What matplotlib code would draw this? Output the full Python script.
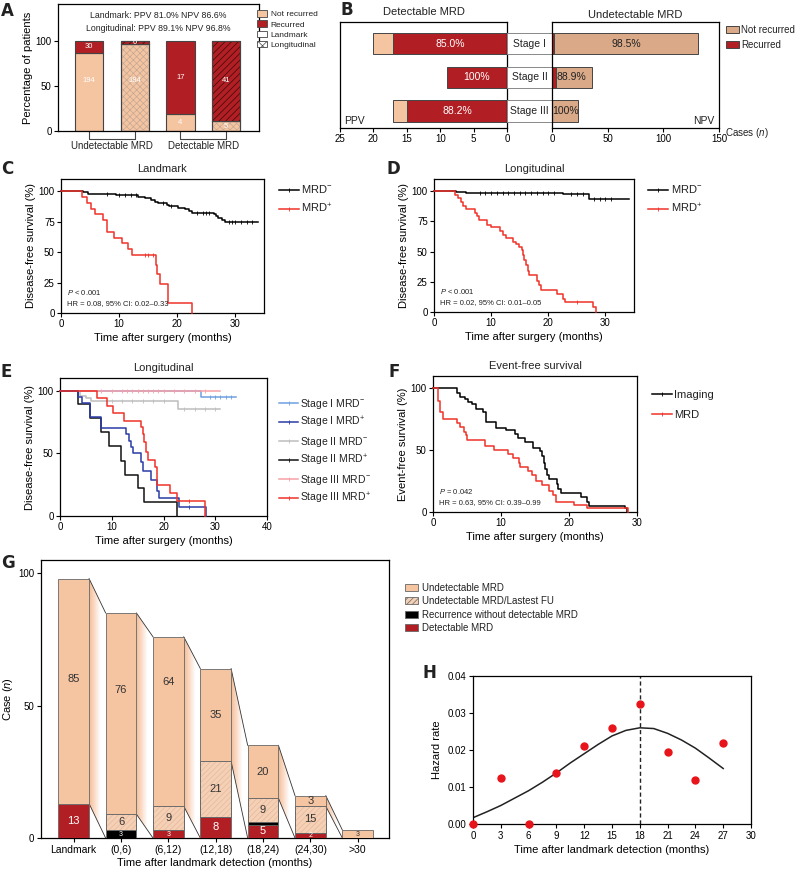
import numpy as np
import matplotlib
matplotlib.use("Agg")
import matplotlib.pyplot as plt
from matplotlib.patches import Patch, Polygon
from matplotlib.lines import Line2D
from matplotlib.colors import LinearSegmentedColormap

plt.rcParams["font.family"] = ["Liberation Sans", "DejaVu Sans"]
plt.rcParams["mathtext.fontset"] = "custom"
plt.rcParams["mathtext.rm"] = "Liberation Sans"
plt.rcParams["mathtext.it"] = "Liberation Sans:italic"
plt.rcParams["hatch.linewidth"] = 0.5
plt.rcParams["axes.linewidth"] = 0.9
plt.rcParams["xtick.labelsize"] = 7
plt.rcParams["ytick.labelsize"] = 7
plt.rcParams["xtick.major.size"] = 3
plt.rcParams["ytick.major.size"] = 3
plt.rcParams["text.color"] = "#222222"

# ---------------- data ----------------
# A
A_groups = ["Undetectable MRD", "Detectable MRD"]
A_not_recurred = [194, 184, 4, 5]
A_recurred = [30, 6, 17, 41]
A_longitudinal = [False, True, False, True]

# B
B_stages = ["Stage I", "Stage II", "Stage III"]
B_det_recurred = [17, 9, 15]
B_det_not = [3, 0, 2]
B_und_recurred = [2, 4, 0]
B_und_not = [129, 32, 23]

# C landmark KM
C_neg_t = [0, 3.8, 4.7, 6.5, 9.5, 13.3, 14.5, 15.6, 16.2, 16.8, 18.2, 18.6, 20.2, 21.3, 22.0, 22.6, 26.3, 26.8, 27.1, 27.7, 28.3, 34.0]
C_neg_s = [100, 99, 98, 97.5, 96.7, 95.5, 94, 92.5, 91, 90, 89, 87.5, 86.5, 85, 84, 82.5, 81, 79.5, 78, 76.5, 75, 75]
C_neg_cens = [8, 10, 11, 12, 13, 17.5, 19, 23.5, 24.5, 25, 25.5, 29, 29.5, 30, 31, 32, 33]
C_pos_t = [0, 3.6, 4.4, 5.2, 5.8, 7.3, 7.9, 9.2, 10.6, 11.6, 12.2, 16.3, 16.6, 17.0, 18.5, 22.5]
C_pos_s = [100, 95.2, 90.5, 85.7, 81.0, 76.2, 66.7, 61.9, 57.1, 52.4, 47.6, 39.7, 31.7, 23.8, 7.9, 0]
C_pos_cens = [14.5, 15.0, 15.8]

# D longitudinal KM
D_neg_t = [0, 3.9, 5.6, 22.5, 27.2, 34.1]
D_neg_s = [100, 99, 98.4, 97.3, 93.8, 93.8]
D_neg_cens = [8, 9, 10, 11, 12, 13, 14, 15, 16, 17, 18, 19, 20, 21, 24, 25, 26, 28, 29, 30, 31]
D_pos_t = [0, 3.6, 4.2, 4.8, 5.1, 5.6, 7.1, 7.5, 7.8, 9.2, 10.0, 11.5, 12.0, 12.6, 13.8, 14.4, 14.9, 15.4, 15.6, 15.8,
           16.1, 16.4, 16.7, 18.1, 18.4, 18.7, 21.5, 22.5, 22.9, 27.8, 28.4]
D_pos_s = [100, 97, 94, 91, 88, 85, 82, 79, 76, 72, 70, 67, 64, 61, 58, 56, 54, 51, 47, 43,
           39, 34, 31, 26, 22, 18, 15, 11, 8, 4, 0]
D_pos_cens = [25.0]

# E stage-wise longitudinal KM
E_labels = ["Stage I MRD$^{-}$", "Stage I MRD$^{+}$", "Stage II MRD$^{-}$",
            "Stage II MRD$^{+}$", "Stage III MRD$^{-}$", "Stage III MRD$^{+}$"]
E_colors = ["#6f9fe0", "#2b3ca6", "#bdbdbd", "#111111", "#f6a0a6", "#ef3228"]
E_t = [
    [0, 27.2, 34.0],
    [0, 3.5, 4.2, 5.8, 7.9, 12.8, 13.3, 13.8, 14.2, 15.6, 16.0, 17.5, 18.7, 19.2, 22.9, 28.3],
    [0, 3.9, 5.0, 6.0, 22.8, 31.0],
    [0, 3.5, 5.8, 7.9, 9.4, 11.7, 12.6, 15.1, 16.3, 22.7],
    [0, 31.0],
    [0, 7.1, 9.0, 10.3, 12.4, 15.6, 16.0, 16.3, 16.6, 17.0, 18.3, 18.8, 21.3, 22.6, 28.0],
]
E_s = [
    [100, 95, 95],
    [100, 95, 90, 79, 70, 65, 60, 55, 50, 43, 36, 29, 20, 14, 7, 0],
    [100, 96, 94, 92, 85, 85],
    [100, 89, 78, 67, 56, 44, 33, 22, 11, 0],
    [100, 100],
    [100, 94, 88, 82, 76, 71, 65, 59, 51, 45, 39, 25, 18, 12, 0],
]
E_cens = [
    [29, 30, 31, 32, 33],
    [25],
    [10, 12, 14, 16, 18, 20, 24, 26, 28, 30],
    [],
    [8, 10, 12, 13, 14, 15, 16, 17, 18, 19, 20, 22, 24, 26, 28],
    [25],
]

# F event-free survival
F_img_t = [0, 3.6, 4.0, 4.7, 5.2, 5.7, 6.3, 7.3, 7.8, 9.3, 10.8, 12.0, 12.5, 13.5, 14.7, 15.7, 16.1, 16.3, 16.5, 16.8,
           17.0, 18.2, 18.4, 18.8, 21.8, 22.6, 22.9, 28.2, 28.5]
F_img_s = [100, 96, 93, 91, 89, 87, 83, 81, 73, 68, 66, 63, 60, 57, 52, 49, 45, 40, 35, 30,
           27, 23, 19, 15, 12, 8, 5, 3, 0]
F_mrd_t = [0, 0.8, 1.0, 1.5, 3.5, 4.0, 4.5, 4.8, 5.0, 7.7, 9.0, 11.1, 11.7, 12.6, 12.8, 14.0, 14.5, 15.2, 16.0, 17.0,
           17.6, 18.1, 20.8, 22.6, 28.7]
F_mrd_s = [100, 90, 81, 75, 72, 69, 65, 62, 58, 53, 50, 47, 44, 40, 36, 33, 30, 25, 22, 17,
           14, 8, 6, 3, 0]

# G
G_categories = ["Landmark", "(0,6)", "(6,12)", "(12,18)", "(18,24)", "(24,30)", ">30"]
G_detectable = [13, 0, 3, 8, 5, 2, 0]
G_recur_no_mrd = [0, 3, 0, 0, 1, 0, 0]
G_last_fu = [0, 6, 9, 21, 9, 10, 0]
G_undetectable = [85, 76, 64, 35, 20, 4, 3]
G_lab_detectable = ["13", "", "3", "8", "5", "2", ""]
G_lab_recur = ["", "3", "", "", "", "", ""]
G_lab_fu = ["", "6", "9", "21", "9", "15", ""]
G_lab_und = ["85", "76", "64", "35", "20", "3", "3"]

# H
H_months = [0, 3, 6, 9, 12, 15, 18, 21, 24, 27]
H_rate = [0.0, 0.0125, 0.0, 0.0138, 0.021, 0.026, 0.0325, 0.0194, 0.012, 0.0218]
H_fit_t = [0, 1.5, 3, 4.5, 6, 7.5, 9, 10.5, 12, 13.5, 15, 16.5, 18, 19.5, 21, 22.5, 24, 25.5, 27]
H_fit = [0.0017, 0.0033, 0.005, 0.007, 0.009, 0.0113, 0.0138, 0.0165, 0.019, 0.0215, 0.0238, 0.0253, 0.026,
         0.0258, 0.0245, 0.0227, 0.0205, 0.0178, 0.015]

PEACH = "#f5c4a1"
DARKRED = "#b11f24"
TAN = "#d9a988"
RED = "#ef3228"
EDGE = "#444444"

W, H = 795, 869
fig = plt.figure(figsize=(W / 100, H / 100), dpi=100)


def px_axes(l, t, r, b):
    return fig.add_axes([l / W, 1 - b / H, (r - l) / W, (b - t) / H])


def letter(x, y, s):
    fig.text(x / W, 1 - y / H, s, fontsize=12, fontweight="bold", va="center", ha="left",
             family=["DejaVu Sans"])


def surv_at(t, s, x):
    idx = np.searchsorted(np.asarray(t), np.asarray(x), side="right") - 1
    return np.asarray(s)[idx]


def km(ax, t, s, color, cens=None, lw=1.1):
    ax.step(t, s, where="post", color=color, lw=lw, clip_on=False, zorder=3)
    if cens:
        ax.plot(cens, surv_at(t, s, cens), "|", color=color, ms=2.5, mew=0.6, zorder=3)


def km_axes(ax, xmax, xstep, title):
    ax.set_xlim(0, xmax)
    ax.set_ylim(0, 110)
    ax.set_yticks([0, 25, 50, 75, 100])
    ax.set_xticks(np.arange(0, xmax + 0.1, xstep))
    ax.set_title(title, fontsize=8, pad=5)
    ax.set_xlabel("Time after surgery (months)", fontsize=8, labelpad=3)
    ax.tick_params(length=3, width=0.8, pad=1.5)


def km_handle(color):
    return Line2D([], [], color=color, lw=1.1, marker="|", ms=2.5, mew=0.6)


# ---------------- A ----------------
axA = px_axes(58, 4, 259, 131)
xa = [1, 2, 3, 4]
for i, x in enumerate(xa):
    nr, rc = A_not_recurred[i], A_recurred[i]
    tot = nr + rc
    p_nr, p_rc = nr / tot * 100, rc / tot * 100
    axA.bar(x, p_nr, 0.62, color=PEACH, ec=EDGE, lw=0.8, zorder=2)
    axA.bar(x, p_rc, 0.62, bottom=p_nr, color=DARKRED, ec=EDGE, lw=0.8, zorder=2)
    if A_longitudinal[i]:
        axA.bar(x, p_nr, 0.62, fill=False, hatch="xxxxx", ec="#c4a896", lw=0, zorder=3)
        axA.bar(x, p_rc, 0.62, bottom=p_nr, fill=False, hatch="/////", ec="#3a0808", lw=0, zorder=3)
        axA.bar(x, 100, 0.62, fill=False, ec=EDGE, lw=0.8, zorder=4)
        axA.plot([x - 0.31, x + 0.31], [p_nr, p_nr], color=EDGE, lw=0.8, zorder=4)
    for val, lo, h in [(nr, 0, p_nr), (rc, p_nr, p_rc)]:
        y = lo + h / 2
        if h > 60:
            y = max(y, 56)
        axA.text(x, y, str(val), ha="center", va="center", color="white", fontsize=5.5, zorder=5)
axA.set_xlim(0.32, 4.72)
axA.set_ylim(0, 141)
axA.set_yticks([0, 50, 100])
axA.set_xticks([])
axA.set_ylabel("Percentage of patients", fontsize=8, labelpad=2)
axA.tick_params(length=3, width=0.8, pad=1.5)
ppv_l = A_recurred[2] / (A_recurred[2] + A_not_recurred[2]) * 100
npv_l = A_not_recurred[0] / (A_recurred[0] + A_not_recurred[0]) * 100
ppv_g = A_recurred[3] / (A_recurred[3] + A_not_recurred[3]) * 100
npv_g = A_not_recurred[1] / (A_recurred[1] + A_not_recurred[1]) * 100
axA.text(2.52, 128, f"Landmark: PPV {ppv_l:.1f}% NPV {npv_l:.1f}%", ha="center", va="center", fontsize=6.3)
axA.text(2.52, 114, f"Longitudinal: PPV {ppv_g:.1f}% NPV {npv_g:.1f}%", ha="center", va="center", fontsize=6.3)
for k, (a, b) in enumerate([(1, 2), (3, 4)]):
    axA.plot([a, a, b, b], [-1, -9, -9, -1], color=EDGE, lw=0.8, clip_on=False)
    axA.text((a + b) / 2, -17, A_groups[k], ha="center", va="center", fontsize=7)
hA = [Patch(fc=PEACH, ec=EDGE, lw=0.6), Patch(fc=DARKRED, ec=EDGE, lw=0.6),
      Patch(fc="white", ec=EDGE, lw=0.6), Patch(fc="white", ec=EDGE, lw=0.6, hatch="xxxx")]
fig.legend(hA, ["Not recurred", "Recurred", "Landmark", "Longitudinal"], loc="upper left",
           bbox_to_anchor=(254 / W, 1 - 7 / H), frameon=False, fontsize=6, handlelength=1.2,
           handleheight=0.8, labelspacing=0.25, handletextpad=0.4, borderaxespad=0)
letter(1, 11, "A")

# ---------------- B ----------------
yb = [3, 2, 1]
bh = 0.63
axBL = px_axes(340, 22, 507, 128)
axBM = px_axes(507, 22, 552, 128)
axBR = px_axes(552, 22, 719, 128)
for i, y in enumerate(yb):
    r, n = B_det_recurred[i], B_det_not[i]
    axBL.barh(y, r, bh, color=DARKRED, ec=EDGE, lw=0.7)
    if n:
        axBL.barh(y, n, bh, left=r, color=PEACH, ec=EDGE, lw=0.7)
    axBL.text(r / 2, y, f"{r / (r + n) * 100:.1f}%" if n else "100%", color="white",
              ha="center", va="center", fontsize=7.5)
    ur, un = B_und_recurred[i], B_und_not[i]
    if ur:
        axBR.barh(y, ur, bh, color=DARKRED, ec=EDGE, lw=0.7)
    axBR.barh(y, un, bh, left=ur, color=TAN, ec=EDGE, lw=0.7)
    npv = un / (un + ur) * 100
    txt = "100%" if ur == 0 else f"{npv:.1f}%"
    if un > 60:
        axBR.text(ur + un / 2, y, txt, ha="center", va="center", fontsize=7.5)
    else:
        axBR.text(ur + 0.3, y, txt, ha="left", va="center", fontsize=7.5)
    axBM.barh(y, 1, bh, color="white", ec="#888888", lw=0.7)
    axBM.text(0.5, y, B_stages[i], ha="center", va="center", fontsize=7.5)
for ax in (axBL, axBM, axBR):
    ax.set_ylim(0.5, 3.64)
    ax.set_yticks([])
    ax.tick_params(length=3, width=0.8, pad=1.5)
axBL.set_xlim(25, 0)
axBL.set_xticks([25, 20, 15, 10, 5, 0])
axBR.set_xlim(0, 150)
axBR.set_xticks([0, 50, 100, 150])
axBM.set_xlim(0, 1)
axBM.axis("off")
axBL.text(0.025, 0.07, "PPV", transform=axBL.transAxes, fontsize=7.5, va="center")
axBR.text(0.975, 0.07, "NPV", transform=axBR.transAxes, fontsize=7.5, va="center", ha="right")
axBL.set_title("Detectable MRD", fontsize=8, pad=5)
axBR.set_title("Undetectable MRD", fontsize=8, pad=3)
fig.text(747 / W, 1 - 133 / H, "Cases ($n$)", fontsize=7, ha="center", va="center")
hB = [Patch(fc=TAN, ec=EDGE, lw=0.7), Patch(fc=DARKRED, ec=EDGE, lw=0.7)]
fig.legend(hB, ["Not recurred", "Recurred"], loc="upper left", bbox_to_anchor=(722 / W, 1 - 21 / H),
           frameon=False, fontsize=7, handlelength=1.3, handleheight=0.8, labelspacing=0.5,
           handletextpad=0.3, borderaxespad=0)
letter(340, 10, "B")

# ---------------- C ----------------
axC = px_axes(61, 179, 264, 313)
km(axC, C_neg_t, C_neg_s, "black", C_neg_cens)
km(axC, C_pos_t, C_pos_s, RED, C_pos_cens)
km_axes(axC, 35, 10, "Landmark")
axC.set_ylabel("Disease-free survival (%)", fontsize=8, labelpad=2)
axC.text(0.03, 0.135, "$P$ < 0.001", transform=axC.transAxes, fontsize=5.5)
axC.text(0.03, 0.06, "HR = 0.08, 95% CI: 0.02\u20130.33", transform=axC.transAxes, fontsize=5.5)
axC.legend([km_handle("black"), km_handle(RED)], ["MRD$^{-}$", "MRD$^{+}$"], loc="upper left",
           bbox_to_anchor=(1.05, 1.0), frameon=False, fontsize=8, handlelength=1.8,
           labelspacing=0.6, handletextpad=0.2, borderaxespad=0)
letter(1, 169, "C")

# ---------------- D ----------------
axD = px_axes(434, 179, 634, 312)
km(axD, D_neg_t, D_neg_s, "black", D_neg_cens)
km(axD, D_pos_t, D_pos_s, RED, D_pos_cens)
km_axes(axD, 35, 10, "Longitudinal")
axD.set_ylabel("Disease-free survival (%)", fontsize=8, labelpad=2)
axD.text(0.03, 0.135, "$P$ < 0.001", transform=axD.transAxes, fontsize=5.5)
axD.text(0.03, 0.06, "HR = 0.02, 95% CI: 0.01\u20130.05", transform=axD.transAxes, fontsize=5.5)
axD.legend([km_handle("black"), km_handle(RED)], ["MRD$^{-}$", "MRD$^{+}$"], loc="upper left",
           bbox_to_anchor=(1.05, 1.0), frameon=False, fontsize=8, handlelength=1.8,
           labelspacing=0.6, handletextpad=0.2, borderaxespad=0)
letter(386, 169, "D")

# ---------------- E ----------------
axE = px_axes(60, 378, 267, 516)
for k in [0, 2, 4, 3, 1, 5]:
    km(axE, E_t[k], E_s[k], E_colors[k], E_cens[k])
km_axes(axE, 40, 10, "Longitudinal")
axE.set_yticks([0, 50, 100])
axE.set_ylabel("Disease-free survival (%)", fontsize=8, labelpad=2)
axE.legend([km_handle(c) for c in E_colors], E_labels, loc="upper left",
           bbox_to_anchor=(1.04, 0.895), frameon=False, fontsize=7.5, handlelength=1.8,
           labelspacing=0.42, handletextpad=0.2, borderaxespad=0)
letter(1, 372, "E")

# ---------------- F ----------------
axF = px_axes(433, 376, 637, 512)
km(axF, F_img_t, F_img_s, "black")
km(axF, F_mrd_t, F_mrd_s, RED)
km_axes(axF, 30, 10, "Event-free survival")
axF.set_yticks([0, 50, 100])
axF.set_ylabel("Event-free survival (%)", fontsize=8, labelpad=2)
axF.text(0.03, 0.135, "$P$ = 0.042", transform=axF.transAxes, fontsize=5.5)
axF.text(0.03, 0.06, "HR = 0.63, 95% CI: 0.39\u20130.99", transform=axF.transAxes, fontsize=5.5)
axF.legend([km_handle("black"), km_handle(RED)], ["Imaging", "MRD"], loc="upper left",
           bbox_to_anchor=(1.05, 0.93), frameon=False, fontsize=8, handlelength=1.8,
           labelspacing=0.9, handletextpad=0.2, borderaxespad=0)
letter(388, 372, "F")

# ---------------- G ----------------
axG = px_axes(41, 560, 389, 838)
gw = 0.65
FU_FACE = "#f4d0b6"
FU_HATCH = "#eab898"
n = len(G_categories)
xg = np.arange(n)
totals = [G_detectable[i] + G_recur_no_mrd[i] + G_last_fu[i] + G_undetectable[i] for i in range(n)]
grad_cmap = LinearSegmentedColormap.from_list("band", ["#f2bc95", "#fbdcc8", "#ffffff", "#ffffff"])
for i in range(n - 1):
    xr, xl = xg[i] + gw / 2, xg[i + 1] - gw / 2
    low = totals[i] - G_undetectable[i]
    verts = [(xr, low), (xr, totals[i]), (xl, totals[i + 1]), (xl, 0)]
    poly = Polygon(verts, closed=True, fc="none", ec="none")
    axG.add_patch(poly)
    im = axG.imshow(np.linspace(0, 1, 200).reshape(1, -1), extent=[xr, xl, 0, totals[i]],
                    aspect="auto", cmap=grad_cmap, zorder=1, interpolation="bilinear")
    im.set_clip_path(poly)
    axG.plot([xr, xl], [totals[i], totals[i + 1]], color="#333333", lw=0.6, zorder=2)
    axG.plot([xr, xl], [low, 0], color="#333333", lw=0.6, zorder=2)
bottom = np.zeros(n)
segs = [(G_detectable, DARKRED, None, G_lab_detectable, "white"),
        (G_recur_no_mrd, "black", None, G_lab_recur, "white"),
        (G_last_fu, FU_FACE, "//////", G_lab_fu, "#333333"),
        (G_undetectable, PEACH, None, G_lab_und, "#333333")]
for vals, col, hatch, labs, tcol in segs:
    for i in range(n):
        v = vals[i]
        if v <= 0:
            continue
        axG.bar(xg[i], v, gw, bottom=bottom[i], color=col, ec="#666666", lw=0.6, zorder=3)
        if hatch:
            axG.bar(xg[i], v, gw, bottom=bottom[i], fill=False, hatch=hatch, ec=FU_HATCH, lw=0, zorder=3)
            axG.bar(xg[i], v, gw, bottom=bottom[i], fill=False, ec="#666666", lw=0.6, zorder=3)
        if labs[i]:
            fs = 8 if v >= 4 else 5
            axG.text(xg[i], bottom[i] + v / 2 if v < 60 else bottom[i] + 47, labs[i],
                     ha="center", va="center", fontsize=fs, color=tcol, zorder=5)
    bottom += np.array(vals, dtype=float)
axG.set_xlim(-0.69, 6.66)
axG.set_ylim(0, 105)
axG.set_xticks(xg)
axG.set_xticklabels(G_categories, fontsize=7.5)
axG.set_yticks([0, 50, 100])
axG.tick_params(length=3, width=0.8, pad=2)
axG.set_ylabel("Case ($n$)", fontsize=8, labelpad=2)
axG.set_xlabel("Time after landmark detection (months)", fontsize=8, labelpad=2)
hG = [Patch(fc=PEACH, ec="#666666", lw=0.6),
      Patch(fc=FU_FACE, ec="#666666", lw=0.6, hatch="//////"),
      Patch(fc="black", ec="#666666", lw=0.6),
      Patch(fc=DARKRED, ec="#666666", lw=0.6)]
fig.legend(hG, ["Undetectable MRD", "Undetectable MRD/Lastest FU",
                "Recurrence without detectable MRD", "Detectable MRD"],
           loc="upper left", bbox_to_anchor=(401 / W, 1 - 579 / H), frameon=False, fontsize=7,
           handlelength=1.3, handleheight=0.7, labelspacing=0.35, handletextpad=0.5, borderaxespad=0)
letter(1, 563, "G")

# ---------------- H ----------------
axH = px_axes(473, 676, 751, 824)
axH.plot(H_fit_t, H_fit, color="#222222", lw=1.1, zorder=2)
axH.axvline(18, color="#222222", lw=1.0, ls=(0, (3, 2)), zorder=1)
axH.plot(H_months, H_rate, "o", color="#e8141b", ms=5, clip_on=False, zorder=4)
axH.set_xlim(0, 30)
axH.set_ylim(0, 0.04)
axH.set_xticks(np.arange(0, 31, 3))
axH.set_yticks([0, 0.01, 0.02, 0.03, 0.04])
axH.set_yticklabels(["0.00", "0.01", "0.02", "0.03", "0.04"])
axH.tick_params(length=3, width=0.8, pad=2)
axH.set_ylabel("Hazard rate", fontsize=8, labelpad=4)
axH.set_xlabel("Time after landmark detection (months)", fontsize=8, labelpad=3)
letter(423, 673, "H")

fig.savefig("out.png", dpi=100)
